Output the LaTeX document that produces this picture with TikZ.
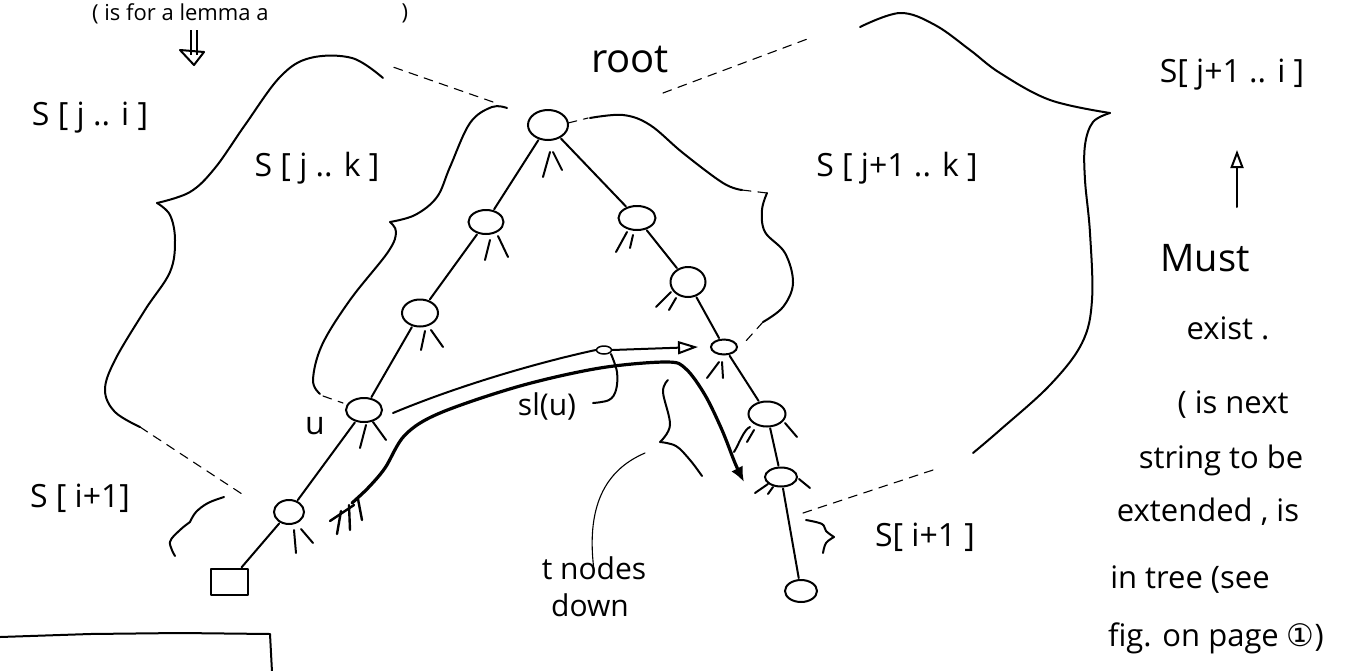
\documentclass[tikz,border=0pt]{standalone}
\usepackage{fontspec}
\setmainfont{Open Sans}
\newfontfamily\symfont{DejaVu Sans}
\usetikzlibrary{shapes.geometric,arrows.meta}
\begin{document}
\begin{tikzpicture}[x=1pt,y=-1pt,
  pen/.style={line width=2pt, line cap=round, line join=round},
  thinpen/.style={line width=1.1pt, line cap=round},
  dashpen/.style={line width=1.1pt, dash pattern=on 9pt off 7pt, line cap=round},
  tnode/.style={draw, ellipse, line width=2pt, inner sep=0pt},
  edge/.style={pen, shorten <=1pt, shorten >=1pt},
  lbl/.style={font=\fontsize{32}{34}\selectfont, inner sep=0pt},
  rtxt/.style={font=\fontsize{31}{33}\selectfont, inner sep=0pt},
]
\useasboundingbox (0,0) rectangle (1366,670);
\fill[white] (0,0) rectangle (1366,670);

% ---------- tree nodes ----------
\node[tnode, minimum width=40, minimum height=30] (root) at (548,125) {};
\node[tnode, minimum width=35, minimum height=24] (L1) at (486,222) {};
\node[tnode, minimum width=36, minimum height=27] (L2) at (420,313) {};
\node[tnode, minimum width=36, minimum height=24] (u) at (364,410) {};
\node[tnode, minimum width=30, minimum height=24] (L4) at (289,512) {};
\node[draw, pen, minimum width=37, minimum height=26, inner sep=0pt] (leaf) at (229,582) {};
\node[tnode, minimum width=37, minimum height=24] (R1) at (637,218) {};
\node[tnode, minimum width=35, minimum height=30] (R2) at (688,282) {};
\node[tnode, minimum width=26, minimum height=15] (R3) at (724,347) {};
\node[tnode, minimum width=37, minimum height=25] (R4) at (767,414) {};
\node[tnode, minimum width=32, minimum height=19] (R5) at (781,477) {};
\node[tnode, minimum width=32, minimum height=22] (R6) at (801,591) {};

% ---------- tree edges ----------
\draw[edge] (root) -- (L1);
\draw[edge] (L1) -- (L2);
\draw[edge] (L2) -- (u);
\draw[edge] (u) -- (L4);
\draw[edge] (L4) -- (leaf);
\draw[edge] (root) -- (R1);
\draw[edge] (R1) -- (R2);
\draw[edge] (R2) -- (R3);
\draw[edge] (R3) -- (R4);
\draw[edge] (R4) -- (R5);
\draw[edge] (R5) -- (R6);

% ---------- child stubs ----------
\draw[pen] ([shift={(2,27)}]root.center) -- ++(-7,25);
\draw[pen] ([shift={(5,27)}]root.center) -- ++(9,18);
\draw[pen] ([shift={(4,18)}]L1.center) -- ++(-5,20);
\draw[pen] ([shift={(12,14)}]L1.center) -- ++(10,21);
\draw[pen] ([shift={(5,18)}]L2.center) -- ++(-4,19);
\draw[pen] ([shift={(11,17)}]L2.center) -- ++(12,17);
\draw[pen] ([shift={(2,15)}]u.center) -- ++(-6,23);
\draw[pen] ([shift={(9,12)}]u.center) -- ++(13,18);
\draw[pen] ([shift={(5,18)}]L4.center) -- ++(2,23);
\draw[pen] ([shift={(12,17)}]L4.center) -- ++(12,14);
\draw[pen] ([shift={(-10,14)}]R1.center) -- ++(-11,20);
\draw[pen] ([shift={(-4,17)}]R1.center) -- ++(-3,13);
\draw[pen] ([shift={(-17,10)}]R2.center) -- ++(-15,15);
\draw[pen] ([shift={(-12,16)}]R2.center) -- ++(-7,12);
\draw[pen] ([shift={(-5,15)}]R3.center) -- ++(-12,16);
\draw[pen] ([shift={(-2,15)}]R3.center) -- ++(1,16);
\draw[pen] ([shift={(-17,13)}]R4.center) .. controls +(-6,2) and +(4,-6) .. ++(-16,25);
\draw[pen] ([shift={(-13,16)}]R4.center) -- ++(-7,12);
\draw[pen] ([shift={(18,9)}]R4.center) -- ++(12,14);
\draw[pen] ([shift={(-13,7)}]R5.center) -- ++(-13,9);
\draw[pen] ([shift={(-8,10)}]R5.center) -- ++(-5,7);
\draw[pen] ([shift={(18,2)}]R5.center) -- ++(11,9);

% ---------- left big brace S[j..i] ----------
\draw[dashpen] (493,102) -- (393,67);
\draw[pen] plot[smooth, tension=0.6] coordinates {(383,78) (352,58) (310,58) (280,77) (245,125) (215,168) (190,192) (157,203)};
\draw[pen] plot[smooth, tension=0.6] coordinates {(157,203) (170,215) (175,240) (170,272) (145,310) (115,360) (105,390) (115,412) (140,427)};
\draw[dashpen] (140,427) -- (242,494);

% small brace S[i+1] (left)
\draw[pen] plot[smooth, tension=0.6] coordinates {(224,497) (208,503) (196,512) (190,522)};
\draw[pen] plot[smooth, tension=0.6] coordinates {(190,522) (180,530) (170,542) (175,556)};

% ---------- brace S[j..k] ----------
\draw[pen] plot[smooth, tension=0.6] coordinates {(507,108) (492,107) (470,123) (450,167) (437,197) (415,215) (390,222)};
\draw[pen] plot[smooth, tension=0.6] coordinates {(390,222) (396,232) (388,252) (350,300) (322,345) (313,380) (320,394)};
\draw[dashpen] (323,396) -- (343,403);

% ---------- brace S[j+1..k] ----------
\draw[dashpen] (568,123) -- (588,118);
\draw[pen] plot[smooth, tension=0.6] coordinates {(590,118) (623,115) (650,125) (683,153) (723,183) (742,190)};
\draw[dashpen] (742,190) -- (767,193);
\draw[pen] plot[smooth, tension=0.6] coordinates {(767,193) (762,210) (765,232) (785,253) (793,283) (783,307) (763,322)};
\draw[dashpen] (763,322) -- (745,342);

% ---------- right big brace S[j+1..i] ----------
\draw[dashpen] (663,93) -- (810,38);
\draw[pen] plot[smooth, tension=0.6] coordinates {(860,27) (900,13) (935,25) (970,50) (1000,73) (1050,100) (1110,113)};
\draw[pen] plot[smooth, tension=0.6] coordinates {(1110,113) (1093,122) (1085,145) (1085,180) (1090,233) (1092,300) (1082,343) (1050,385) (1000,430) (973,453)};
\draw[dashpen] (933,470) -- (803,513);

% small brace S[i+1] (right)
\draw[pen] plot[smooth, tension=0.6] coordinates {(806,520) (822,524) (826,531) (834,537)};
\draw[pen] plot[smooth, tension=0.6] coordinates {(834,537) (826,543) (823,553)};

% ---------- suffix link ----------
\node[tnode, line width=1.5pt, minimum width=15, minimum height=8] (sm) at (604,350) {};
\draw[pen, -{Triangle[open, length=20pt, width=13pt, line width=2pt]}]
  ([xshift=10pt, yshift=-3pt]u.east) .. controls (460,385) and (540,362) .. (sm.west)
  (sm.east) -- ([xshift=-12pt]R3.west);
\draw[pen] plot[smooth, tension=0.6] coordinates {(611,354) (617,372) (616,390) (609,400) (593,403)};

% ---------- traversal path ----------
\draw[line width=3.2pt, line cap=round, line join=round, -{Latex[length=15pt, width=13pt]}]
  plot[smooth, tension=0.55] coordinates {(352,503) (368,488) (385,468) (405,435) (440,413) (520,386) (600,368) (667,362) (686,369) (705,395) (722,430) (735,463) (744,482)};
\draw[line width=2.4pt, line cap=round] (330,521) -- (354,505);
\draw[line width=2.4pt, line cap=round] (341,511) -- (337,534);
\draw[line width=2.4pt, line cap=round] (349,505) -- (350,530);
\draw[line width=2.4pt, line cap=round] (358,499) -- (362,520);

% ---------- t nodes down brace ----------
\draw[pen] plot[smooth, tension=0.6] coordinates {(668,380) (663,392) (670,425) (660,442)};
\draw[pen] plot[smooth, tension=0.6] coordinates {(660,442) (676,446) (690,460) (702,476)};

% ---------- labels ----------
\node[anchor=base west, font=\fontsize{22}{24}\selectfont, inner sep=0pt] (topnote) at (92,20) {( is for a lemma a};
\node[font=\fontsize{22}{24}\selectfont, inner sep=0pt] (topparen) at (405,13) {)};
\node[lbl] (sji) at (90,118) {S [ j .. i ]};
\node[lbl] (sjk) at (317,168) {S [ j .. k ]};
\node[font=\fontsize{40}{42}\selectfont, inner sep=0pt] (rootlbl) at (630,60) {root};
\node[lbl] (sj1k) at (897,168) {S [ j+1 .. k ]};
\node[lbl] (sj1i) at (1232,75) {S[ j+1 .. i ]};
\node[lbl] (sileft) at (80,498) {S [ i+1]};
\node[lbl] (ulbl) at (315,426) {u};
\node[font=\fontsize{30}{32}\selectfont, inner sep=0pt] (sllbl) at (547,406) {sl(u)};
\node[font=\fontsize{30}{32}\selectfont, inner sep=0pt] (tnodes) at (594,568) {t nodes};
\node[font=\fontsize{30}{32}\selectfont, inner sep=0pt] (down) at (590,605) {down};
\draw[thinpen] ([yshift=-14pt]tnodes.north) .. controls (585,500) and (610,468) .. (645,453);
\node[lbl] (siright) at (925,537) {S[ i+1 ]};

% ---------- right column ----------
\node[font=\fontsize{38}{40}\selectfont, inner sep=0pt] (must) at (1205,258) {Must};
\coordinate (upA) at (1237,207);
\coordinate (upB) at (1237,150);
\draw[pen, -{Triangle[open, length=18pt, width=13pt, line width=2pt]}] (upA) -- (upB);
\node[rtxt] (exist) at (1228,328) {exist .};
\node[rtxt] (r1) at (1233,405) {( is next};
\node[rtxt] (r2) at (1221,460) {string to be};
\node[rtxt] (r3) at (1208,512) {extended , is};
\node[rtxt] (r4) at (1190,580) {in tree (see};
\node[rtxt] (r5) at (1216,638) {fig. on page {\symfont ①})};

% ---------- top double arrow ----------
\draw[line width=1.5pt] (191,30) -- (191,55);
\draw[line width=1.5pt] (197,30) -- (197,55);
\draw[pen] (180,50) -- (194,65) -- (204,52);
\draw[pen] (180,50) -- (204,52);

% ---------- bottom-left box ----------
\draw[pen] (0,637) -- (90,634) -- (180,633) -- (270,634) -- (272,672);
\end{tikzpicture}
\end{document}
